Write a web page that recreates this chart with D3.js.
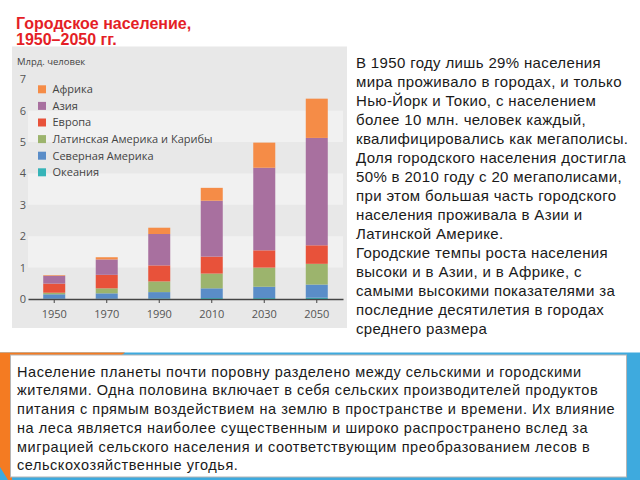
<!DOCTYPE html>
<html><head><meta charset="utf-8">
<script src="https://cdn.jsdelivr.net/npm/d3@7"></script>
<style>
html,body{margin:0;padding:0;background:#fff;}
svg{display:block;}
</style></head>
<body>
<svg id="c" width="640" height="480"></svg>
<script>
// ---- data ----
const years = ["1950","1970","1990","2010","2030","2050"];
const regions = ["Океания","Северная Америка","Латинская Америка и Карибы","Европа","Азия","Африка"];
const oceania  = [0.01,0.01,0.02,0.03,0.03,0.04];
const northAm  = [0.14,0.17,0.20,0.31,0.36,0.42];
const latAm    = [0.05,0.16,0.34,0.47,0.61,0.66];
const europe   = [0.29,0.43,0.51,0.54,0.55,0.59];
const asia     = [0.25,0.49,1.00,1.78,2.63,3.42];
const africa   = [0.02,0.07,0.20,0.41,0.80,1.25];
const yTicks = [0,1,2,3,4,5,6,7];
const legendOrder = ["Африка","Азия","Европа","Латинская Америка и Карибы","Северная Америка","Океания"];
const titleLines = ["Городское население,","1950–2050 гг."];
const yLabel = "Млрд. человек";
const sideText = [
 "В 1950 году лишь 29% населения",
 "мира проживало в городах, и только",
 "Нью-Йорк и Токио, с населением",
 "более 10 млн. человек каждый,",
 "квалифицировались как мегаполисы.",
 "Доля городского населения достигла",
 "50% в 2010 году с 20 мегаполисами,",
 "при этом большая часть городского",
 "населения проживала в Азии и",
 "Латинской Америке.",
 "Городские темпы роста населения",
 "высоки и в Азии, и в Африке, с",
 "самыми высокими показателями за",
 "последние десятилетия в городах",
 "среднего размера"
];
const boxText = [
 "Население планеты почти поровну разделено между сельскими и городскими",
 "жителями. Одна половина включает в себя сельских производителей продуктов",
 "питания с прямым воздействием на землю в пространстве и времени. Их влияние",
 "на леса является наиболее существенным и широко распространено вслед за",
 "миграцией сельского населения и соответствующим преобразованием лесов в",
 "сельскохозяйственные угодья."
];

const seriesMap = {"Океания":oceania,"Северная Америка":northAm,"Латинская Америка и Карибы":latAm,"Европа":europe,"Азия":asia,"Африка":africa};
const colors = {"Океания":"#36b4b8","Северная Америка":"#5a8dc8","Латинская Америка и Карибы":"#9cb46d","Европа":"#e8523a","Азия":"#a8709f","Африка":"#f58c47"};

const svg = d3.select("#c");
const font = "'Liberation Sans', Arial, sans-serif";
const chartFont = "'Open Sans', 'Noto Sans', sans-serif";

// ---- title ----
svg.append("g").selectAll("text").data(titleLines).join("text")
  .attr("x",16).attr("y",(d,i)=>28.5+i*16.8)
  .attr("font-family",font).attr("font-weight","bold").attr("font-size",16)
  .attr("fill","#e41e26").text(d=>d);

// ---- chart panel ----
svg.append("rect").attr("x",12).attr("y",46.5).attr("width",335).attr("height",281.5).attr("fill","#e8e8e8");

const y = d3.scaleLinear().domain([0,7]).range([299,79.2]);
const x = d3.scaleBand().domain(years).range([28,343]).paddingInner(0.581).paddingOuter(0.29);

// alternating bands
const bandPairs = [[1,2],[3,4],[5,6]];
svg.append("g").selectAll("rect").data(bandPairs).join("rect")
  .attr("x",28).attr("width",315)
  .attr("y",d=>y(d[1])).attr("height",d=>y(d[0])-y(d[1]))
  .attr("fill","#f1f1f1");

// stacked bars
const table = years.map((yr,i)=>{const o={year:yr}; regions.forEach(r=>o[r]=seriesMap[r][i]); return o;});
const stack = d3.stack().keys(regions)(table);
svg.append("g").selectAll("g").data(stack).join("g")
  .attr("fill",d=>colors[d.key])
  .selectAll("rect").data(d=>d).join("rect")
  .attr("x",d=>x(d.data.year)).attr("width",x.bandwidth())
  .attr("y",d=>y(d[1])).attr("height",d=>y(d[0])-y(d[1]));

// y axis labels
const ya = svg.append("g").attr("transform","translate(26,0)")
  .call(d3.axisLeft(y).tickValues(yTicks).tickFormat(d3.format("d")).tickSize(0).tickPadding(0));
ya.select(".domain").remove();
ya.selectAll("text").attr("font-family",chartFont).attr("font-size",11).attr("fill","#555");

svg.append("text").attr("x",17).attr("y",65).attr("font-family",chartFont).attr("font-size",9.5)
  .attr("fill","#444").text(yLabel);

// x axis
const xa = svg.append("g").attr("transform","translate(0,299)")
  .call(d3.axisBottom(x).tickSize(4).tickSizeOuter(0).tickPadding(7));
xa.select(".domain").attr("stroke","#444").attr("stroke-width",1.5);
xa.selectAll(".tick line").attr("stroke","#444");
xa.selectAll("text").attr("font-family",chartFont).attr("font-size",11).attr("fill","#555");

// legend
const lg = svg.append("g").selectAll("g").data(legendOrder).join("g")
  .attr("transform",(d,i)=>`translate(38,${89.3+i*16.6})`);
lg.append("rect").attr("x",0).attr("y",-4).attr("width",8).attr("height",8).attr("fill",d=>colors[d]);
lg.append("text").attr("x",14.5).attr("y",0).attr("dy","0.35em")
  .attr("font-family",chartFont).attr("font-size",11).attr("fill","#444").text(d=>d);

// ---- side text ----
svg.append("g").selectAll("text").data(sideText).join("text")
  .attr("x",356).attr("y",(d,i)=>67.5+i*19)
  .attr("font-family",font).attr("font-size",15).attr("letter-spacing",0.35)
  .attr("fill","#1a1a1a").text(d=>d);

// ---- bottom frame ----
svg.append("rect").attr("x",0).attr("y",352.5).attr("width",640).attr("height",127.5).attr("fill","#3eaade");
svg.append("polygon").attr("points","0,352.5 125,352.5 12,440 12,480 8,480 0,467").attr("fill","#f47b22");
svg.append("rect").attr("x",10.5).attr("y",355).attr("width",616).attr("height",122)
  .attr("fill","#fff").attr("stroke","#b5b5b5").attr("stroke-width",1);
svg.append("g").selectAll("text").data(boxText).join("text")
  .attr("x",17).attr("y",(d,i)=>376.7+i*18.7)
  .attr("font-family",font).attr("font-size",14.5).attr("letter-spacing",0.55)
  .attr("fill","#1a1a1a").text(d=>d);
</script>
</body></html>
